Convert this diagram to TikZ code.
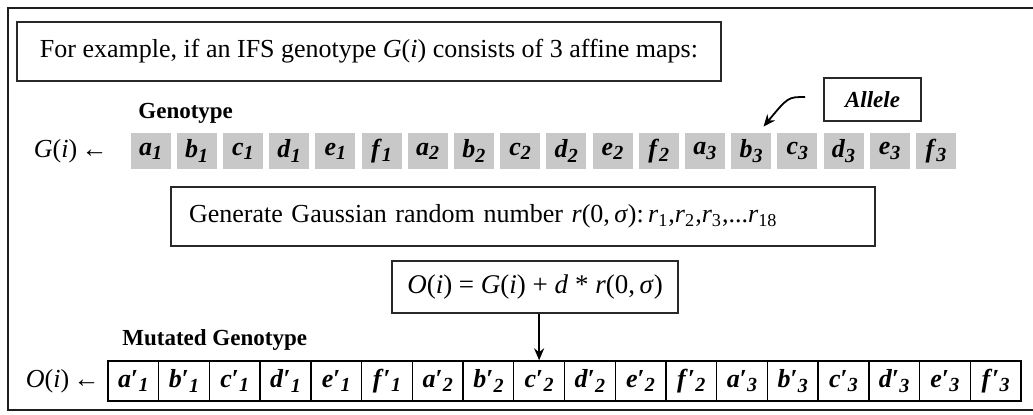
\documentclass[tikz,border=0pt]{standalone}
\usepackage{fontspec}
\setmainfont{Liberation Serif}
\usetikzlibrary{arrows.meta}
\newcommand\genesub[2]{\textbf{\textit{#1}}\raisebox{-0.35ex}{\fontsize{10}{10}\selectfont\textbf{\textit{#2}}}}
\newcommand\mutsub[2]{\textbf{\textit{#1}′}\raisebox{-0.35ex}{\fontsize{10}{10}\selectfont\textbf{\textit{#2}}}}
\tikzset{
  frame/.style={draw={rgb,255:red,40;green,40;blue,40},line width=0.9pt,inner sep=0pt},
  textbox/.style={frame,minimum width=352pt,minimum height=29.5pt,font=\fontsize{13}{15.6}\selectfont},
  genecell/.style={fill={rgb,255:red,200;green,200;blue,200},minimum width=20pt,minimum height=18pt,inner sep=0pt,font=\fontsize{13}{15.6}\selectfont},
  mutcell/.style={draw=black,line width=0.7pt,minimum width=25.36pt,minimum height=20pt,inner sep=0pt,font=\fontsize{13}{15.6}\selectfont},
  rowlabel/.style={inner sep=0pt,anchor=base west,font=\bfseries\fontsize{11.5}{13.8}\selectfont},
  arrowhead/.style={-{Stealth[length=6pt,width=5pt]},line width=1pt}
}
\begin{document}
\begin{tikzpicture}[x=.5pt,y=-.5pt]
\path[use as bounding box] (0,0) rectangle (1033,414);
\path[fill=white,draw=none] (0,0) rectangle (1033,414);
\draw[draw={rgb,255:red,30;green,30;blue,30},line width=1pt] (8,8) rectangle (1040,410);
\node[textbox] (intro) at (369,51.5) {For example, if an IFS genotype \textit{G}(\textit{i}) consists of 3 affine maps:};
% genotype row
\node[rowlabel] (genolabel) at (138,118) {Genotype};
\foreach \k in {1,2,3}
  \foreach \l [count=\j from 0] in {a,b,c,d,e,f} {
    \pgfmathtruncatemacro\idx{6*(\k-1)+\j}
    \node[genecell] (g\idx) at (150.5+46.2*\idx,151) {\genesub{\l}{\k}};
  }
\node[inner sep=0pt,anchor=east,font=\fontsize{13}{15.6}\selectfont] (gname) at (108,151) {\textit{G}(\textit{i})\,←};
\node[frame,minimum width=48.5pt,minimum height=21.5pt,font=\bfseries\itshape\fontsize{11.5}{13.8}\selectfont] (allele) at (872.5,99.5) {Allele};
\coordinate (alleletail) at (805,97);
\draw[arrowhead,line width=0.9pt] (alleletail) .. controls (788,97) .. ([shift={(-8,-6)}]g13.north east);
% mutation steps
\node[textbox,text width=334pt,inner xsep=9pt,align=left] (gauss) at (523,216.5) {Generate Gaussian random number \textit{r}(0,\,\textit{σ}):\,\textit{r}\textsubscript{1},\textit{r}\textsubscript{2},\textit{r}\textsubscript{3},...\textit{r}\textsubscript{18}};
\node[frame,minimum width=143pt,minimum height=26pt,font=\fontsize{13.5}{16}\selectfont] (formula) at (535,287) {\textit{O}(\textit{i}) = \textit{G}(\textit{i}) + \textit{d} * \textit{r}(0,\,\textit{σ})};
% mutated row
\node[rowlabel] (mutlabel) at (122,345) {Mutated Genotype};
\foreach \k in {1,2,3}
  \foreach \l [count=\j from 0] in {a,b,c,d,e,f} {
    \pgfmathtruncatemacro\idx{6*(\k-1)+\j}
    \node[mutcell] (m\idx) at (133.36+50.72*\idx,381) {\mutsub{\l}{\k}};
  }
\node[inner sep=0pt,anchor=east,font=\fontsize{13}{15.6}\selectfont] (oname) at (100,381) {\textit{O}(\textit{i})\,←};
\draw[arrowhead] (formula.south -| m8.north) -- (m8.north);
\end{tikzpicture}
\end{document}
